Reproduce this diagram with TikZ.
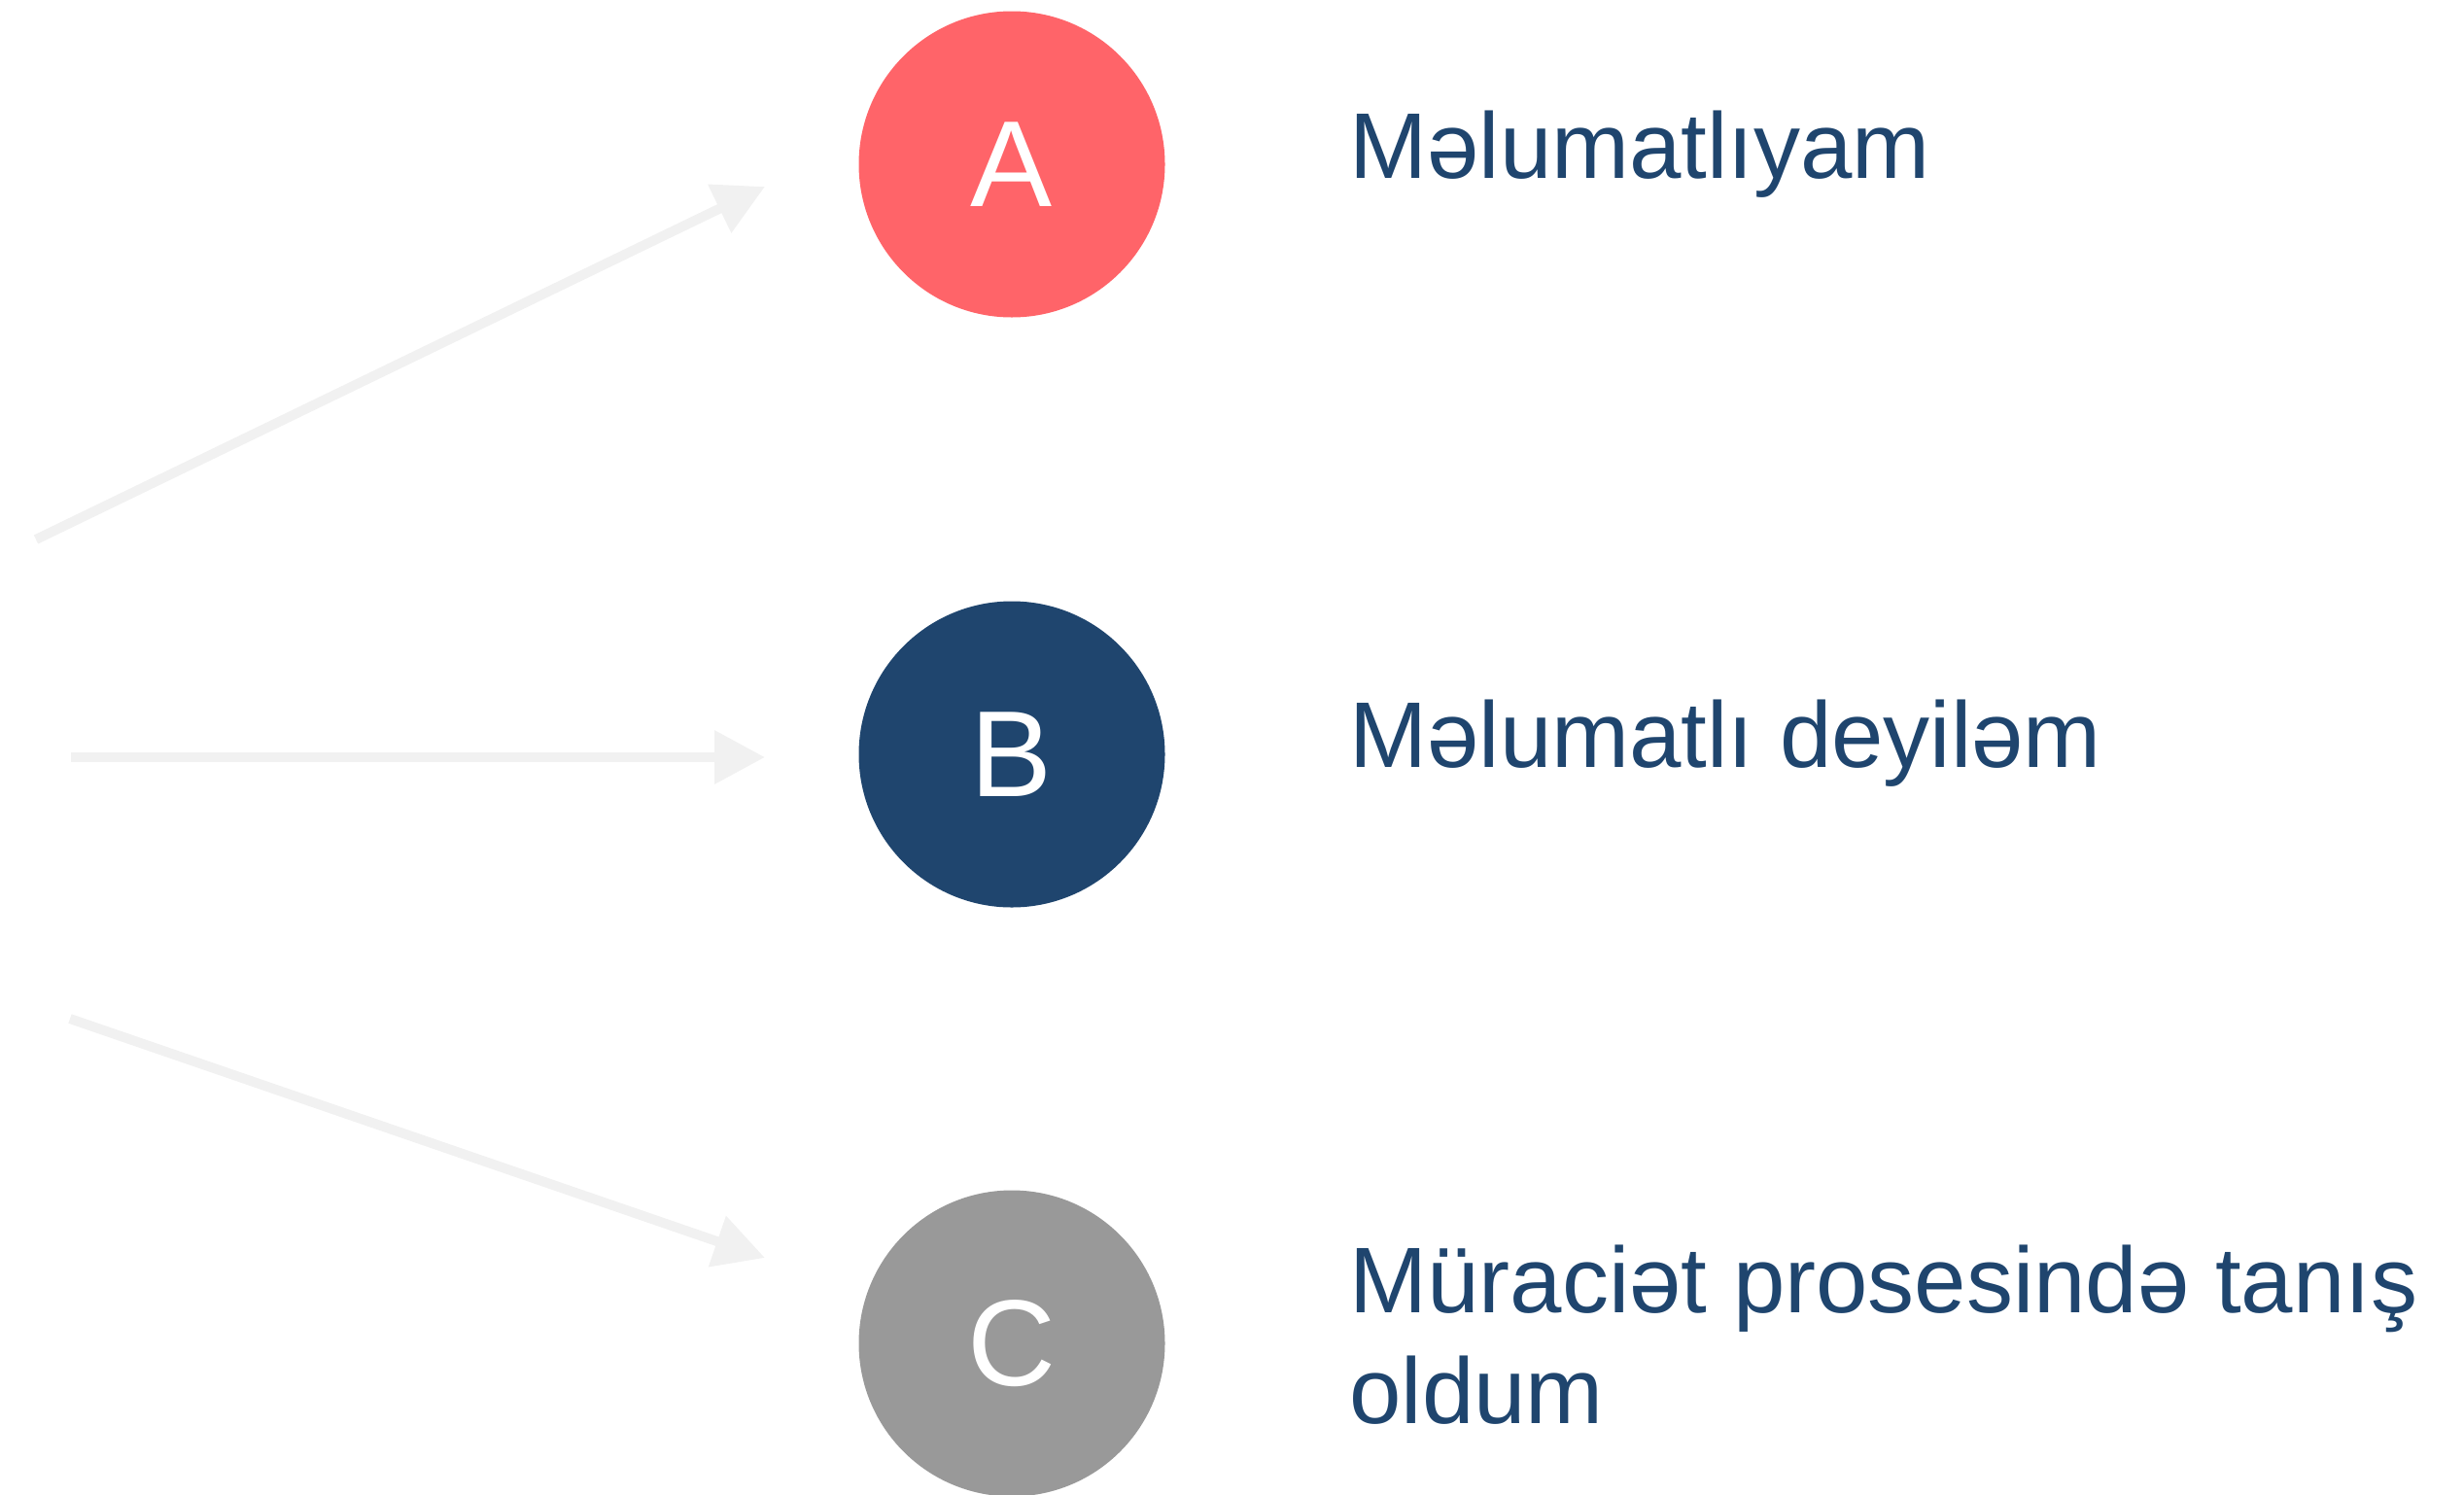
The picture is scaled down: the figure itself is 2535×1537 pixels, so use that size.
\documentclass[tikz,border=0pt]{standalone}
\usepackage{fontspec}
\setmainfont{Liberation Sans}
\usetikzlibrary{arrows.meta}
\definecolor{cred}{HTML}{FF6469}
\definecolor{cblue}{HTML}{1F456E}
\definecolor{cgrey}{HTML}{999999}
\definecolor{carrow}{HTML}{F1F1F1}
\definecolor{ctext}{HTML}{1F456E}
\begin{document}
\begin{tikzpicture}[x=0.5pt,y=-0.5pt,
  dot/.style={circle,minimum size=157.5pt,inner sep=0pt,text=white,
    font=\fontsize{63}{70}\selectfont},
  lbl/.style={anchor=base west,inner sep=0pt,text=ctext,align=left,
    font=\fontsize{48}{57}\selectfont},
  arr/.style={draw=carrow,line width=5pt,
    -{Triangle[length=26pt,width=26.5pt]}}]
\useasboundingbox (0,0) rectangle (2535,1537);
\node[dot,fill=cred]   (A) at (1041,169) {A};
\node[dot,fill=cblue]  (B) at (1041,776) {B};
\node[dot,fill=cgrey]  (C) at (1041,1382) {C};
\node[lbl] (tA) at (1388,183) {Məlumatlıyam};
\node[lbl] (tB) at (1388,789) {Məlumatlı deyiləm};
\node[lbl] (tC) at (1388,1464) {Müraciət prosesində tanış\\oldum};
\coordinate (s1) at (37,555);
\coordinate (e1) at (787,192);
\coordinate (s2) at (73,779);
\coordinate (e2) at (787,779);
\coordinate (s3) at (72,1048);
\coordinate (e3) at (787,1294);
\draw[arr] (s1) -- (e1);
\draw[arr] (s2) -- (e2);
\draw[arr] (s3) -- (e3);
\end{tikzpicture}
\end{document}
